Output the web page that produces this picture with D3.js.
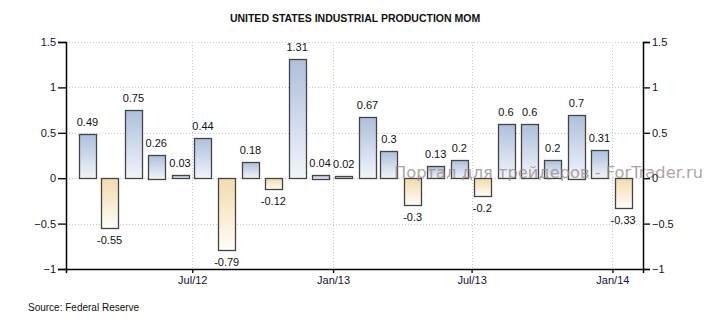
<!DOCTYPE html>
<html>
<head>
<meta charset="utf-8">
<script src="https://cdn.jsdelivr.net/npm/d3@7"></script>
<style>
  body { margin: 0; background: #fff; }
  text { font-family: "Liberation Sans", Arial, sans-serif; }
</style>
</head>
<body>
<div class="chart"></div>
<script>
// monthly industrial production change, Feb 2012 - Jan 2014
const months = ["2012-02", "2012-03", "2012-04", "2012-05", "2012-06", "2012-07",
    "2012-08", "2012-09", "2012-10", "2012-11", "2012-12", "2013-01",
    "2013-02", "2013-03", "2013-04", "2013-05", "2013-06", "2013-07",
    "2013-08", "2013-09", "2013-10", "2013-11", "2013-12", "2014-01"]
const values = [0.49, -0.55, 0.75, 0.26, 0.03, 0.44,
    -0.79, 0.18, -0.12, 1.31, 0.04, 0.02,
    0.67, 0.3, -0.3, 0.13, 0.2, -0.2,
    0.6, 0.6, 0.2, 0.7, 0.31, -0.33]
const yTicks = [1.5, 1, 0.5, 0, -0.5, -1]
const xTicks = ["2012-07-01", "2013-01-01", "2013-07-01", "2014-01-01"]

const width = 710
const height = 325
const plot = {left: 66, right: 643, top: 42, bottom: 269}

const parse = d3.utcParse("%Y-%m-%d")
const data = months.map((m, i) => ({date: parse(m + "-15"), value: values[i]}))

const svg = d3.select(".chart").append("svg")
    .attr("width", width)
    .attr("height", height)
    .attr("viewBox", [0, 0, width, height])

const x = d3.scaleUtc()
    .domain([parse("2012-01-18"), parse("2014-02-10")])
    .range([plot.left, plot.right])

const y = d3.scaleLinear()
    .domain([-1, 1.5])
    .range([plot.bottom, plot.top])

const defs = svg.append("defs")
const grad = (id, c1, c2) => {
    const g = defs.append("linearGradient").attr("id", id)
        .attr("x1", 0).attr("y1", 0).attr("x2", 0).attr("y2", 1)
    g.append("stop").attr("offset", "0%").attr("stop-color", c1)
    g.append("stop").attr("offset", "100%").attr("stop-color", c2)
}
grad("pos", "#adc0dc", "#f2f5fa")
grad("neg", "#f3dbac", "#fffdf8")

svg.append("text")
    .attr("x", width / 2)
    .attr("y", 22)
    .attr("text-anchor", "middle")
    .style("font-size", "10.5px")
    .style("font-weight", "bold")
    .attr("fill", "#111")
    .text("UNITED STATES INDUSTRIAL PRODUCTION MOM")

// dotted grid
const grid = svg.append("g")
    .attr("stroke", "#c8c8c8")
    .attr("stroke-dasharray", "1,2")
grid.selectAll(".h")
    .data(yTicks.filter(d => d > -1))
    .join("line")
    .attr("x1", plot.left).attr("x2", plot.right)
    .attr("y1", d => Math.round(y(d)) + 0.5)
    .attr("y2", d => Math.round(y(d)) + 0.5)
grid.selectAll(".v")
    .data(xTicks.map(parse))
    .join("line")
    .attr("x1", d => Math.round(x(d)) + 0.5)
    .attr("x2", d => Math.round(x(d)) + 0.5)
    .attr("y1", plot.top).attr("y2", plot.bottom)

const barW = 17
svg.append("g")
    .selectAll("rect")
    .data(data)
    .join("rect")
    .attr("x", d => Math.round(x(d.date) - barW / 2) + 0.5)
    .attr("y", d => Math.round(y(Math.max(0, d.value))) + 0.5)
    .attr("width", barW)
    .attr("height", d => Math.max(1, Math.round(Math.abs(y(d.value) - y(0)))))
    .attr("fill", d => d.value >= 0 ? "url(#pos)" : "url(#neg)")
    .attr("stroke", "#444")
    .attr("stroke-width", 1.3)

svg.append("g")
    .selectAll("text")
    .data(data)
    .join("text")
    .attr("x", d => x(d.date))
    .attr("y", d => d.value >= 0 ? y(d.value) - 8 : y(d.value) + 16)
    .attr("text-anchor", "middle")
    .style("font-size", "11px")
    .attr("fill", "#111")
    .text(d => d.value)

// site watermark, sits over the bars
svg.append("text")
    .attr("x", 394)
    .attr("y", 178)
    .attr("textLength", 309)
    .attr("lengthAdjust", "spacingAndGlyphs")
    .style("font-family", "'DejaVu Sans', Verdana, sans-serif")
    .style("font-size", "15px")
    .attr("fill", "#9a8e8e")
    .attr("opacity", 0.8)
    .text("Портал для трейдеров - ForTrader.ru")

const fmtY = d => d3.format("")(d)
svg.append("g")
    .attr("transform", `translate(${plot.left},0)`)
    .call(d3.axisLeft(y).tickValues(yTicks).tickSize(8).tickPadding(2).tickFormat(fmtY))
svg.append("g")
    .attr("transform", `translate(${plot.right},0)`)
    .call(d3.axisRight(y).tickValues(yTicks).tickSize(7).tickPadding(2).tickFormat(fmtY))
svg.append("g")
    .attr("transform", `translate(0,${plot.bottom})`)
    .call(d3.axisBottom(x).tickValues(xTicks.map(parse)).tickSize(4).tickPadding(3)
        .tickFormat(d3.utcFormat("%b/%y")))

svg.selectAll(".domain").attr("stroke", "#000").attr("stroke-width", 1.5)
svg.selectAll(".tick line").attr("stroke", "#000").attr("stroke-width", 1.3)
svg.selectAll(".tick text")
    .style("font-family", "'Liberation Sans', Arial, sans-serif")
    .style("font-size", "11px")
    .attr("fill", "#1a1030")

svg.append("text")
    .attr("x", 28)
    .attr("y", 311)
    .style("font-size", "10px")
    .attr("fill", "#111")
    .text("Source: Federal Reserve")
</script>
</body>
</html>
